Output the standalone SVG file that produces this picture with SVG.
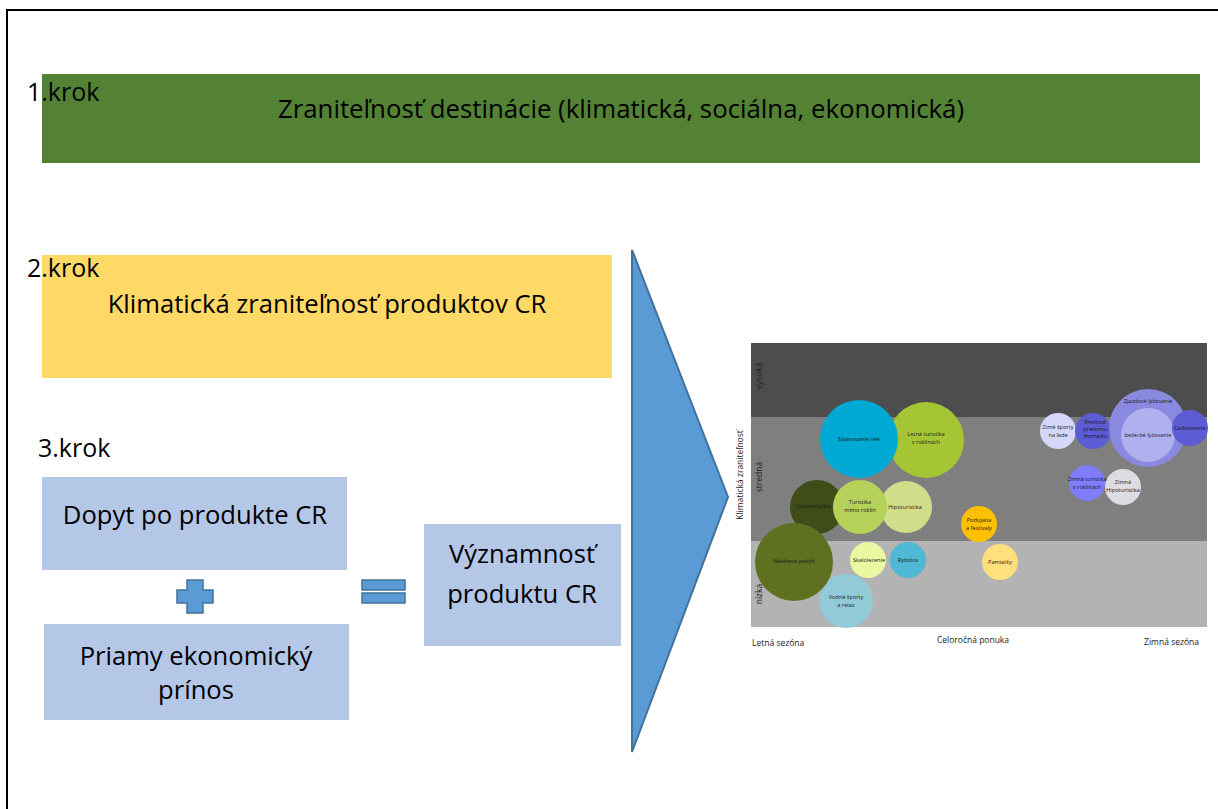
<svg xmlns="http://www.w3.org/2000/svg" width="1218" height="809" viewBox="0 0 1218 809">
  <style>
    .lbl { font-family: "Open Sans", "Liberation Sans", sans-serif; fill: #000; }
    .big { font-size: 25px; }
    .title { font-size: 25.8px; }
    .box { font-size: 25.6px; text-anchor: middle; }
    .blue { fill: #B4C7E7; }
    .op { fill: #5B9BD5; stroke: #41719C; stroke-width: 1.5; }
    .ax { font-family: "Open Sans", "Liberation Sans", sans-serif; font-size: 8.5px; fill: #222; }
    .bl { font-family: "Open Sans", "Liberation Sans", sans-serif; font-size: 5.6px; fill: #1a1a1a; text-anchor: middle; }
  </style>

  <rect width="1218" height="809" fill="#ffffff"/>
  <!-- outer frame -->
  <rect x="7" y="10" width="1230" height="820" fill="none" stroke="#000" stroke-width="2"/>

  <!-- step 1 -->
  <g id="step1">
    <rect x="42" y="74" width="1158" height="89" fill="#548235"/>
    <text class="lbl big" x="27" y="101">1.krok</text>
    <text class="lbl title" x="621" y="118" text-anchor="middle">Zraniteľnosť destinácie (klimatická, sociálna, ekonomická)</text>
  </g>

  <!-- step 2 -->
  <g id="step2">
    <rect x="42" y="255" width="570" height="123" fill="#FFD966"/>
    <text class="lbl big" x="27" y="277">2.krok</text>
    <text class="lbl box" x="327" y="313">Klimatická zraniteľnosť produktov CR</text>
  </g>

  <!-- step 3 -->
  <g id="step3-label">
    <text class="lbl big" x="38" y="457">3.krok</text>
  </g>
  <g id="dopyt">
    <rect class="blue" x="42" y="477" width="305" height="93"/>
    <text class="lbl box" x="195" y="524">Dopyt po produkte CR</text>
  </g>
  <g id="plus">
    <path class="op" d="M187,580 h16 v10 h10 v13 h-10 v10 h-16 v-10 h-10 v-13 h10 z"/>
  </g>
  <g id="prinos">
    <rect class="blue" x="44" y="624" width="305" height="96"/>
    <text class="lbl box" x="196" y="665">Priamy ekonomický</text>
    <text class="lbl box" x="196" y="699">prínos</text>
  </g>
  <g id="equals">
    <rect class="op" x="362" y="580" width="43" height="10"/>
    <rect class="op" x="362" y="593" width="43" height="10"/>
  </g>
  <g id="vyznamnost">
    <rect class="blue" x="424" y="524" width="197" height="122"/>
    <text class="lbl box" x="522" y="563">Významnosť</text>
    <text class="lbl box" x="522" y="603">produktu CR</text>
  </g>

  <!-- arrow towards the matrix -->
  <g id="connectors">
    <polygon points="632,250 728,497 632,752" fill="#5B9BD5" stroke="#41719C" stroke-width="2"/>
  </g>

  <!-- vulnerability matrix -->
  <g id="matrix">
    <rect x="751" y="343" width="456" height="74" fill="#4D4D4D"/>
    <rect x="751" y="417" width="456" height="124" fill="#7F7F7F"/>
    <rect x="751" y="541" width="456" height="86" fill="#B3B3B3"/>

    <text class="ax" transform="translate(743,475) rotate(-90)" text-anchor="middle">Klimatická zraniteľnosť</text>
    <text class="ax" transform="translate(762,376) rotate(-90)" text-anchor="middle">vysoká</text>
    <text class="ax" transform="translate(762,477) rotate(-90)" text-anchor="middle">stredná</text>
    <text class="ax" transform="translate(762,594) rotate(-90)" text-anchor="middle">nízka</text>

    <text class="ax" x="752" y="646">Letná sezóna</text>
    <text class="ax" x="973" y="643" text-anchor="middle">Celoročná ponuka</text>
    <text class="ax" x="1199" y="645" text-anchor="end">Zimná sezóna</text>
  </g>

  <g id="bubbles">
    <circle cx="926" cy="440" r="38" fill="#A6C535"/>
    <circle cx="859" cy="439" r="39" fill="#00A9D3"/>
    <circle cx="817" cy="507" r="27" fill="#404D18"/>
    <circle cx="906" cy="507" r="26" fill="#D0DE8A"/>
    <circle cx="860" cy="507" r="27" fill="#B6D15A"/>
    <circle cx="846" cy="601" r="27" fill="#93CAD8"/>
    <circle cx="794" cy="562" r="39" fill="#5F7021"/>
    <circle cx="868" cy="560" r="18" fill="#EBF7A3"/>
    <circle cx="908" cy="560" r="18" fill="#4FB9D5"/>
    <circle cx="979" cy="524" r="18" fill="#FFC000"/>
    <circle cx="1000" cy="562" r="18" fill="#FFE07D"/>
    <circle cx="1087" cy="483" r="18" fill="#7E7EFA"/>
    <circle cx="1123" cy="487" r="18" fill="#DCDCE3"/>
    <circle cx="1058" cy="431" r="18" fill="#D6D6FA"/>
    <circle cx="1093" cy="431" r="18" fill="#5C5CD4"/>
    <circle cx="1148" cy="428" r="39" fill="#8989E0"/>
    <circle cx="1148" cy="435" r="27" fill="#B0B0EE"/>
    <circle cx="1190" cy="428" r="18" fill="#5C5CD4"/>
  </g>

  <g id="bubble-labels">
    <text class="bl" x="859" y="441">Splavovanie riek</text>
    <text class="bl" x="926" y="436">Letná turistika</text>
    <text class="bl" x="926" y="444">v roklinách</text>
    <text class="bl" x="813" y="508" fill="#111">Cykloturistika</text>
    <text class="bl" x="860" y="504">Turistika</text>
    <text class="bl" x="860" y="512">mimo roklín</text>
    <text class="bl" x="905" y="509">Hipoturistika</text>
    <text class="bl" x="794" y="563">Návšteva jaskýň</text>
    <text class="bl" x="869" y="562">Skalolezenie</text>
    <text class="bl" x="908" y="562">Rybolov</text>
    <text class="bl" x="846" y="599">Vodné športy</text>
    <text class="bl" x="846" y="607">a relax</text>
    <text class="bl" x="979" y="522">Podujatia</text>
    <text class="bl" x="979" y="530">a festivaly</text>
    <text class="bl" x="1000" y="564">Pamiatky</text>
    <text class="bl" x="1087" y="481">Zimná turistika</text>
    <text class="bl" x="1087" y="489">v roklinách</text>
    <text class="bl" x="1123" y="484">Zimná</text>
    <text class="bl" x="1123" y="492">Hipoturistika</text>
    <text class="bl" x="1058" y="429">Zimé športy</text>
    <text class="bl" x="1058" y="437">na ľade</text>
    <text class="bl" x="1095" y="424">Prechod</text>
    <text class="bl" x="1095" y="431">prielomu</text>
    <text class="bl" x="1095" y="438">Hornádu</text>
    <text class="bl" x="1148" y="403">Zjazdové lyžovanie</text>
    <text class="bl" x="1148" y="437">bežecké lyžovanie</text>
    <text class="bl" x="1190" y="430">Ľadolezenie</text>
  </g>
</svg>
